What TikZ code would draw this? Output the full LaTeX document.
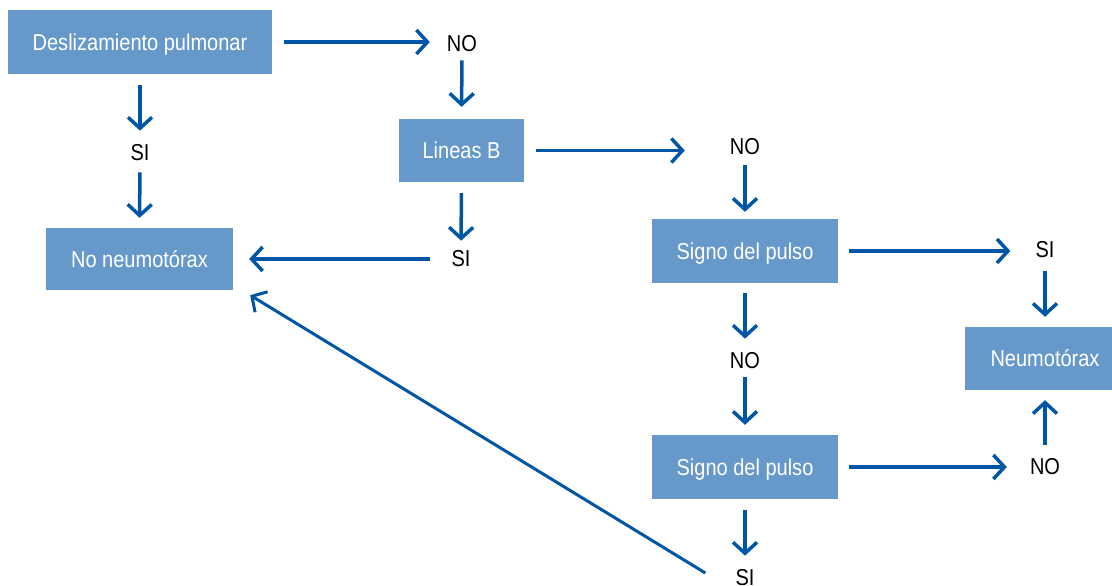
\documentclass[tikz,border=0pt]{standalone}
\usepackage{fontspec}
\setmainfont[FakeStretch=0.87]{Liberation Sans}
\usetikzlibrary{arrows.meta}
\definecolor{boxblue}{HTML}{6699C9}
\definecolor{flowblue}{HTML}{0056A6}
\begin{document}
\begin{tikzpicture}[x=1pt,y=-1pt,
  stepbox/.style={fill=boxblue, text=white, inner sep=0pt,
    text height=16.5pt, text depth=0pt,
    font=\fontsize{23}{27}\selectfont},
  answer/.style={inner sep=0pt, text=black, font=\fontsize{23}{27}\selectfont},
  flow/.style={draw=flowblue, line width=3.5pt,
    -{Straight Barb[length=11pt,width=24pt,line width=3.5pt]}}]
\useasboundingbox (0,0) rectangle (1112,586);

% decision boxes
\node[stepbox, minimum width=264pt, minimum height=64pt] (b1) at (140,42) {Deslizamiento pulmonar};
\node[stepbox, minimum width=125pt, minimum height=63pt] (b2) at (461.5,150.5) {Lineas B};
\node[stepbox, minimum width=186pt, minimum height=64pt] (b3) at (745,251) {Signo del pulso};
\node[stepbox, minimum width=186pt, minimum height=64pt] (b4) at (745,467) {Signo del pulso};
\node[stepbox, minimum width=187pt, minimum height=62pt] (nn) at (139.5,259) {No neumotórax};
\node[stepbox, minimum width=160pt, minimum height=63pt] (nm) at (1045,358.5) {Neumotórax};

% answers
\node[answer] (no1) at (462,44) {NO};
\node[answer] (si1) at (140,153) {SI};
\node[answer] (no2) at (745,147) {NO};
\node[answer] (si2) at (461,259) {SI};
\node[answer] (si3) at (1045,250) {SI};
\node[answer] (no4) at (745,361) {NO};
\node[answer] (no3) at (1045,467) {NO};
\node[answer] (si4) at (745,578) {SI};

% connectors
\draw[flow, shorten <=12pt, shorten >=17pt] (b1.east) -- (b1.east -| no1.west);
\draw[flow, shorten <=8pt, shorten >=12pt] (no1.south) -- (b2.north);
\draw[flow, shorten <=11pt, shorten >=14pt] (b1.south) -- (si1.north);
\draw[flow, shorten <=11pt, shorten >=10pt] (si1.south) -- (nn.north);
\draw[flow, shorten <=12pt, shorten >=45pt] (b2.east) -- (b2.east -| no2.west);
\draw[flow, shorten <=10pt, shorten >=7pt] (no2.south) -- (b3.north);
\draw[flow, shorten <=11pt, shorten >=10pt] (b2.south) -- (si2.north);
\draw[flow, shorten <=21pt, shorten >=16pt] (si2.west) -- (si2.west -| nn.east);
\draw[flow, shorten <=11pt, shorten >=25pt] (b3.east) -- (b3.east -| si3.west);
\draw[flow, shorten <=13pt, shorten >=10pt] (si3.south) -- (nm.north);
\draw[flow, shorten <=10pt, shorten >=14pt] (b3.south) -- (no4.north);
\draw[flow, shorten <=8pt, shorten >=10pt] (no4.south) -- (b4.north);
\draw[flow, shorten <=11pt, shorten >=23pt] (b4.east) -- (b4.east -| no3.west);
\draw[flow, shorten <=14pt, shorten >=10pt] (no3.north) -- (nm.south);
\draw[flow, shorten <=11pt, shorten >=14pt] (b4.south) -- (si4.north);
\draw[flow, -{Straight Barb[length=11pt,width=24pt,line width=3pt]}, line width=3pt]
  ([shift={(-30,-5)}]si4.west) -- ([shift={(17,5)}]nn.south east);
\end{tikzpicture}
\end{document}
